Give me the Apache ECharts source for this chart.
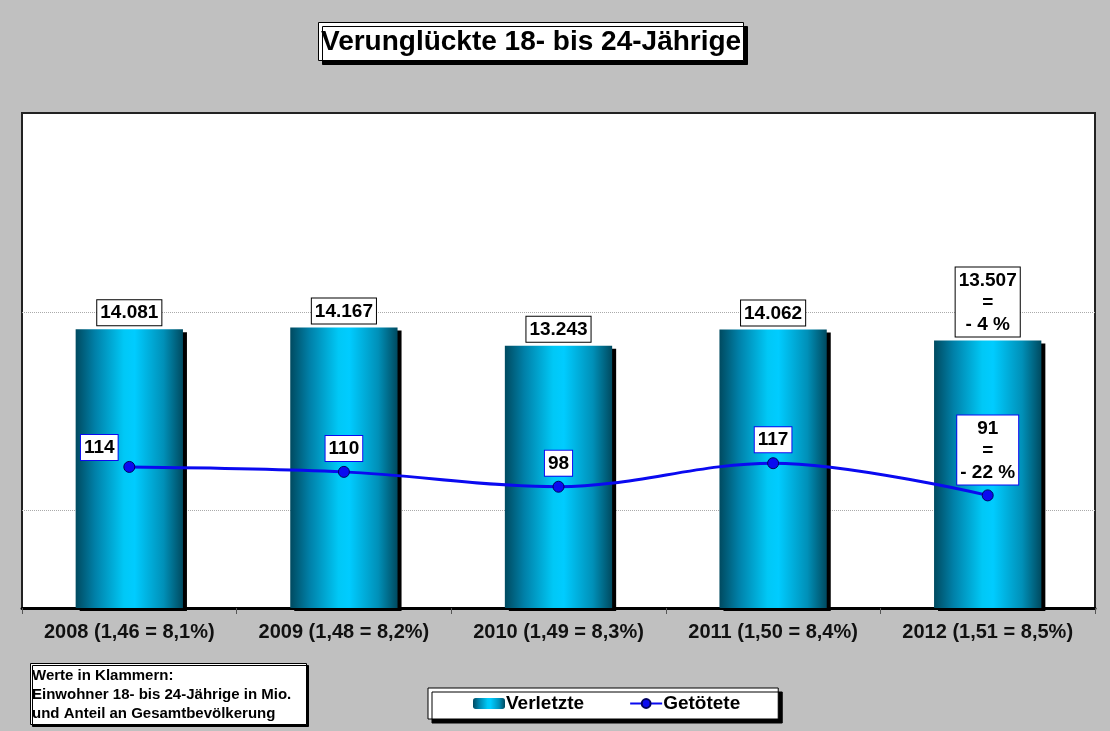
<!DOCTYPE html>
<html>
<head>
<meta charset="utf-8">
<script src="https://cdn.jsdelivr.net/npm/echarts@6/dist/echarts.min.js"></script>
<style>
  html, body { margin: 0; padding: 0; background: #c0c0c0; }
  #chart { width: 1110px; height: 731px; }
</style>
</head>
<body>
<div id="chart"></div>
<script>
// Kategorien: Jahr (Einwohner in Mio. = Anteil)
const categories = ['2008 (1,46 = 8,1%)', '2009 (1,48 = 8,2%)', '2010 (1,49 = 8,3%)', '2011 (1,50 = 8,4%)', '2012 (1,51 = 8,5%)']
const injured = [14081, 14167, 13243, 14062, 13507]
const killed = [114, 110, 98, 117, 91]
const injuredChange = ['', '', '', '', '- 4 %']
const killedChange = ['', '', '', '', '- 22 %']

const font = 'Arial, "Liberation Sans", sans-serif'

function fmt (v) {
  return String(v).replace(/\B(?=(\d{3})+(?!\d))/g, '.')
}

const barGradient = new echarts.graphic.LinearGradient(0, 0, 1, 0, [
  { offset: 0, color: '#004a60' },
  { offset: 0.18, color: '#0080a8' },
  { offset: 0.45, color: '#00c8f6' },
  { offset: 0.55, color: '#00ccff' },
  { offset: 0.82, color: '#0090b8' },
  { offset: 1, color: '#004a60' }
])

const chart = echarts.init(document.getElementById('chart'))

const option = {
  backgroundColor: '#c0c0c0',
  animation: false,
  title: [
    {
      text: 'Verunglückte 18- bis 24-Jährige',
      left: 318,
      top: 22,
      padding: [4, 3, 3, 3],
      backgroundColor: '#fff',
      borderColor: '#000',
      borderWidth: 1,
      shadowColor: '#000',
      shadowOffsetX: 4,
      shadowOffsetY: 4,
      shadowBlur: 0,
      textStyle: { fontFamily: font, fontWeight: 'bold', fontSize: 28, lineHeight: 32, color: '#000' }
    },
    {
      text: 'Werte in Klammern:\nEinwohner 18- bis 24-Jährige in Mio.\nund Anteil an Gesamtbevölkerung',
      left: 30,
      top: 663,
      padding: [3, 16, 2, 2],
      backgroundColor: '#fff',
      borderColor: '#000',
      borderWidth: 1,
      shadowColor: '#000',
      shadowOffsetX: 2,
      shadowOffsetY: 2,
      shadowBlur: 0,
      textStyle: { fontFamily: font, fontWeight: 'bold', fontSize: 15, lineHeight: 19, color: '#000' }
    }
  ],
  legend: {
    left: 428,
    top: 688,
    padding: [6, 38, 6, 45],
    itemGap: 45,
    itemWidth: 32,
    itemHeight: 11,
    backgroundColor: '#fff',
    borderColor: '#000',
    borderWidth: 1,
    shadowColor: '#000',
    shadowOffsetX: 4,
    shadowOffsetY: 4,
    shadowBlur: 0,
    textStyle: { fontFamily: font, fontWeight: 'bold', fontSize: 19, color: '#000', padding: [0, 0, 0, -4] },
    data: ['Verletzte', 'Getötete']
  },
  grid: [
    {
      left: 22, right: 15, top: 113, bottom: 123,
      show: true,
      backgroundColor: '#fff',
      borderColor: '#222',
      borderWidth: 2
    },
    // Hilfsraster für die gepunkteten Linien (5.000 und 15.000)
    { left: 22, right: 15, top: 312, bottom: 221, show: false }
  ],
  xAxis: [
    {
      type: 'category',
      gridIndex: 0,
      data: categories,
      axisLine: { show: true, lineStyle: { color: '#000', width: 3 } },
      axisTick: { show: true, interval: 0, length: 6, lineStyle: { color: '#555', width: 1 } },
      axisLabel: { interval: 0, fontFamily: font, fontWeight: 'bold', fontSize: 20, color: '#111', margin: 14 }
    },
    { type: 'category', gridIndex: 1, data: categories, show: false }
  ],
  yAxis: [
    { type: 'value', gridIndex: 0, min: 0, max: 25000, show: false, splitLine: { show: false } },
    { type: 'value', gridIndex: 0, min: 0, max: 400, show: false, splitLine: { show: false } },
    {
      type: 'value', gridIndex: 1, min: 0, max: 1, interval: 1,
      axisLine: { show: false }, axisTick: { show: false }, axisLabel: { show: false },
      splitLine: { show: true, lineStyle: { color: '#aaa', type: 'dotted', width: 1 } }
    }
  ],
  series: [
    {
      name: 'Verletzte',
      type: 'bar',
      xAxisIndex: 0,
      yAxisIndex: 0,
      barWidth: '50%',
      itemStyle: {
        color: barGradient,
        borderWidth: 0,
        shadowColor: '#000',
        shadowOffsetX: 4,
        shadowOffsetY: 3,
        shadowBlur: 0
      },
      label: {
        show: true,
        position: 'top',
        distance: 4,
        backgroundColor: '#fff',
        borderColor: '#000',
        borderWidth: 1,
        padding: [2, 3, 1, 3],
        fontFamily: font,
        fontWeight: 'bold',
        fontSize: 19,
        lineHeight: 22,
        color: '#000',
        formatter: p => injuredChange[p.dataIndex]
          ? fmt(p.value) + '\n=\n' + injuredChange[p.dataIndex]
          : fmt(p.value)
      },
      data: injured
    },
    {
      name: 'Getötete',
      type: 'line',
      xAxisIndex: 0,
      yAxisIndex: 1,
      smooth: 0.35,
      symbol: 'circle',
      symbolSize: 11,
      z: 5,
      lineStyle: { color: '#0a0af0', width: 3 },
      itemStyle: { color: '#0a0af0', borderColor: '#000060', borderWidth: 1 },
      label: {
        show: true,
        position: 'top',
        distance: 5,
        backgroundColor: '#fff',
        borderColor: '#0a0af0',
        borderWidth: 1,
        padding: [2, 3, 1, 3],
        fontFamily: font,
        fontWeight: 'bold',
        fontSize: 19,
        lineHeight: 22,
        color: '#000',
        formatter: p => killedChange[p.dataIndex]
          ? p.value + '\n=\n' + killedChange[p.dataIndex]
          : String(p.value)
      },
      data: killed.map((v, i) => i === 0 ? { value: v, label: { offset: [-30, 4] } } : v)
    }
  ]
}

chart.setOption(option)
</script>
</body>
</html>
